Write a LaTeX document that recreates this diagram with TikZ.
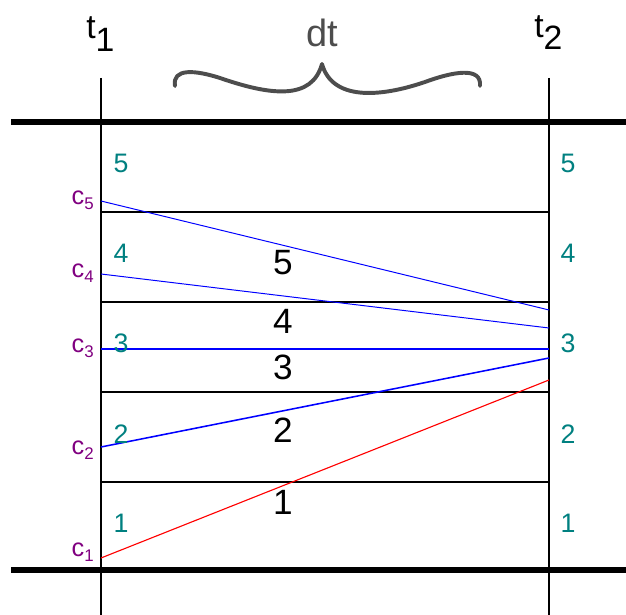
\documentclass[tikz,border=0pt]{standalone}
\usepackage{fontspec}
\setmainfont{Liberation Sans}
\definecolor{tealnum}{RGB}{0,128,128}
\definecolor{purplec}{RGB}{128,0,128}
\definecolor{bracegray}{RGB}{77,77,77}
\tikzset{
	cellnum/.style={text=tealnum, font=\fontsize{19}{21}\selectfont, inner sep=0pt},
	slicenum/.style={text=black, font=\fontsize{25}{28}\selectfont, inner sep=0pt},
	clabel/.style={text=purplec, font=\fontsize{18}{20}\selectfont, anchor=base east, inner sep=0pt},
	tlabel/.style={font=\fontsize{24}{28}\selectfont, anchor=base west, inner sep=0pt},
	charline/.style={blue, line width=0.7pt}
}
\begin{document}
\begin{tikzpicture}[x=0.025cm, y=-0.025cm, line join=round]
	\useasboundingbox (0,0) rectangle (626,615);
	
	% Trục thời gian t1, t2
	\coordinate (T1top) at (101,78);
	\coordinate (T1bot) at (101,615);
	\coordinate (T2top) at (549,78);
	\coordinate (T2bot) at (549,615);
	
	% Biên trên và biên dưới
	\coordinate (Btop_L) at (11,122);
	\coordinate (Btop_R) at (626,122);
	\coordinate (Bbot_L) at (11,570);
	\coordinate (Bbot_R) at (626,570);
	
	% Các lớp (ranh giới giữa các ô)
	\foreach \y [count=\i] in {212,302,392,482} {
		\coordinate (H\i_L) at (101,\y);
		\coordinate (H\i_R) at (549,\y);
	}
	
	% Điểm đầu (tại t1) và điểm cuối (tại t2) của các đường đặc trưng
	\coordinate (C1a) at (101,558);  \coordinate (C1b) at (549,380);
	\coordinate (C2a) at (101,447);  \coordinate (C2b) at (549,358);
	\coordinate (C3a) at (101,349);  \coordinate (C3b) at (549,349);
	\coordinate (C4a) at (101,274);  \coordinate (C4b) at (549,328);
	\coordinate (C5a) at (101,201);  \coordinate (C5b) at (549,310);
	
	% --- Khung ---
	\draw[line width=1.6pt] (T1top) -- (T1bot) (T2top) -- (T2bot);
	\draw[line width=3.8pt] (Btop_L) -- (Btop_R) (Bbot_L) -- (Bbot_R);
	\foreach \i in {1,...,4}
		\draw[line width=1.4pt] (H\i_L) -- (H\i_R);
	
	% --- Đường đặc trưng ---
	\draw[red, line width=0.8pt] (C1a) -- (C1b);
	\draw[charline, line width=1.1pt] (C2a) -- (C2b);
	\draw[charline, line width=1.2pt] (C3a) -- (C3b);
	\draw[charline] (C4a) -- (C4b);
	\draw[charline] (C5a) -- (C5b);
	
	% --- Dấu ngoặc dt ---
	\draw[bracegray, line width=2.8pt, line cap=round] (175,86)
		.. controls (172,68) and (195,70) .. (220,78)
		.. controls (272,96) and (312,100) .. (322,64)
		.. controls (332,100) and (378,98) .. (425,82)
		.. controls (452,72) and (482,66) .. (480,86);
	
	% --- Nhãn ---
	\node[tlabel] (t1) at (86,39) {t\raisebox{-9pt}{1}};
	\node[tlabel] (t2) at (534,38) {t\raisebox{-8.5pt}{2}};
	\node[text=bracegray, font=\fontsize{27}{30}\selectfont, inner sep=0pt] (dt) at (322,33) {dt};
	
	\node[clabel] (c1) at (94,557) {c\raisebox{-3pt}{\fontsize{12}{13}\selectfont 1}};
	\node[clabel] (c2) at (94,455) {c\raisebox{-3pt}{\fontsize{12}{13}\selectfont 2}};
	\node[clabel] (c3) at (94,353) {c\raisebox{-3pt}{\fontsize{12}{13}\selectfont 3}};
	\node[clabel] (c4) at (94,278) {c\raisebox{-3pt}{\fontsize{12}{13}\selectfont 4}};
	\node[clabel] (c5) at (94,205) {c\raisebox{-3pt}{\fontsize{12}{13}\selectfont 5}};
	
	\foreach \n/\y in {1/523,2/434,3/343,4/253,5/163} {
		\node[cellnum] (L\n) at (121,\y) {\n};
		\node[cellnum] (R\n) at (568,\y) {\n};
	}
	
	\node[slicenum] (S1) at (283,502) {1};
	\node[slicenum] (S2) at (283,430) {2};
	\node[slicenum] (S3) at (283,367) {3};
	\node[slicenum] (S4) at (283,321) {4};
	\node[slicenum] (S5) at (283,263) {5};
	
\end{tikzpicture}
\end{document}
